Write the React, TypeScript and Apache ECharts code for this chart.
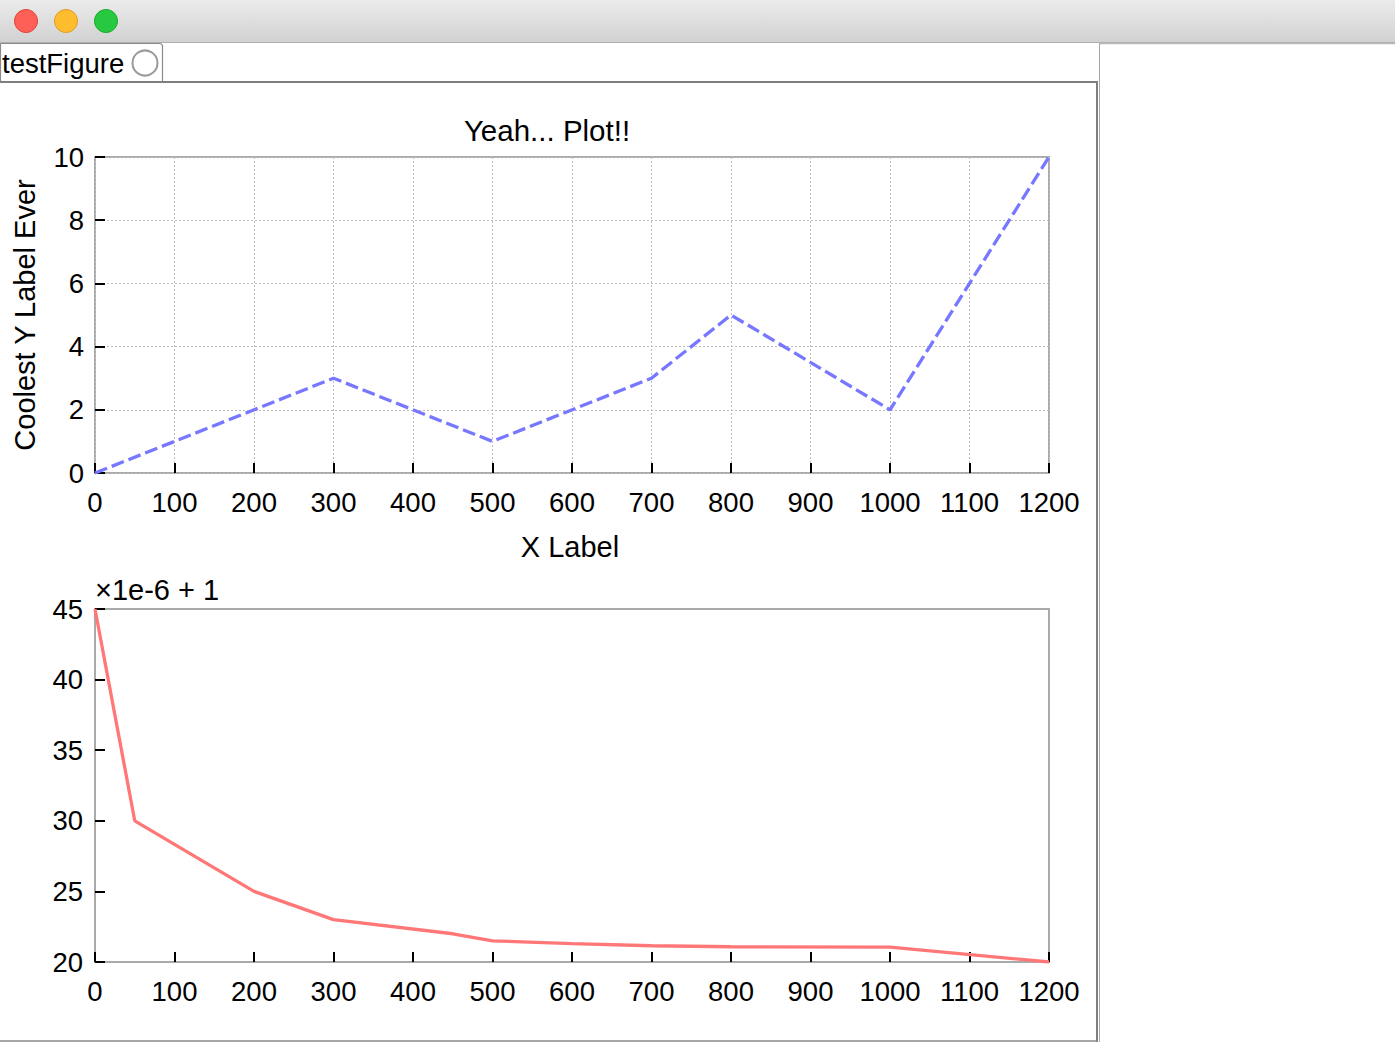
import React, { useEffect, useRef } from "react";
import * as echarts from "echarts";

// ---- data ----
const topX = [0, 300, 500, 700, 800, 1000, 1200];
const topY = [0, 3, 1, 3, 5, 2, 10];
const botX = [0, 50, 200, 300, 450, 500, 600, 700, 800, 1000, 1200];
const botY = [45, 30, 25, 23, 22, 21.5, 21.3, 21.15, 21.08, 21.05, 20];

const titleText = "Yeah... Plot!!";
const yLabelText = "Coolest Y Label Ever";
const xLabelText = "X Label";
const offsetText = "×1e-6 + 1";
const tabText = "testFigure";

const FONT = '"Liberation Sans", Arial, sans-serif';

export default function App() {
  const ref = useRef<HTMLDivElement>(null);
  useEffect(() => {
    if (!ref.current) return;
    const chart = echarts.init(ref.current, null, { renderer: "svg" });
    const axisLabel = { color: "#000", fontSize: 27.5, fontFamily: FONT, formatter: (v: number) => String(v) };
    const tick = { show: true, inside: true, length: 10, lineStyle: { color: "#000", width: 2 } };
    const grid = { color: "#bdbdbd", width: 1, type: [2, 2] as any };
    const zip = (xs: number[], ys: number[]) => xs.map((x, i) => [x, ys[i]]);
    chart.setOption({
      animation: false,
      backgroundColor: "#fff",
      grid: [
        { left: 95, top: 157, width: 954, height: 316, show: true, borderColor: "#aaaaaa", borderWidth: 2, backgroundColor: "transparent" },
        { left: 95, top: 609, width: 954, height: 353, show: true, borderColor: "#aaaaaa", borderWidth: 2, backgroundColor: "transparent" },
      ],
      xAxis: [
        { gridIndex: 0, type: "value", min: 0, max: 1200, interval: 100, axisLine: { show: false }, axisTick: tick, axisLabel: { ...axisLabel, margin: 15 }, splitLine: { show: true, lineStyle: grid } },
        { gridIndex: 1, type: "value", min: 0, max: 1200, interval: 100, axisLine: { show: false }, axisTick: tick, axisLabel: { ...axisLabel, margin: 15 }, splitLine: { show: false } },
      ],
      yAxis: [
        { gridIndex: 0, type: "value", min: 0, max: 10, interval: 2, axisLine: { show: false }, axisTick: tick, axisLabel: { ...axisLabel, margin: 11 }, splitLine: { show: true, lineStyle: grid } },
        { gridIndex: 1, type: "value", min: 20, max: 45, interval: 5, axisLine: { show: false }, axisTick: tick, axisLabel: { ...axisLabel, margin: 12 }, splitLine: { show: false } },
      ],
      series: [
        { type: "line", xAxisIndex: 0, yAxisIndex: 0, data: zip(topX, topY), showSymbol: false, lineStyle: { color: "#7777ff", width: 3.3, type: [13, 5] } },
        { type: "line", xAxisIndex: 1, yAxisIndex: 1, data: zip(botX, botY), showSymbol: false, lineStyle: { color: "#ff7777", width: 3.3 } },
      ],
      graphic: [
        // title bar
        { type: "rect", shape: { x: 0, y: 0, width: 1395, height: 42 }, style: { fill: new echarts.graphic.LinearGradient(0, 0, 0, 1, [{ offset: 0, color: "#ebebeb" }, { offset: 1, color: "#d2d2d2" }]) }, z: 100 },
        { type: "line", shape: { x1: 0, y1: 42.5, x2: 1395, y2: 42.5 }, style: { stroke: "#b0b0b0", lineWidth: 1 }, z: 100 },
        { type: "line", shape: { x1: 1100, y1: 43.5, x2: 1395, y2: 43.5 }, style: { stroke: "#b8b8b8", lineWidth: 1.5 }, z: 100 },
        { type: "circle", shape: { cx: 26, cy: 21, r: 11.5 }, style: { fill: "#fe5f57", stroke: "#e2463f", lineWidth: 1 }, z: 101 },
        { type: "circle", shape: { cx: 66, cy: 21, r: 11.5 }, style: { fill: "#febc2e", stroke: "#df9e24", lineWidth: 1 }, z: 101 },
        { type: "circle", shape: { cx: 106, cy: 21, r: 11.5 }, style: { fill: "#28c840", stroke: "#1dad2b", lineWidth: 1 }, z: 101 },
        // tab
        { type: "rect", shape: { x: 0.5, y: 43.5, width: 162, height: 38, r: [0, 3, 0, 0] }, style: { fill: "#fff", stroke: "#8a8a8a", lineWidth: 1.2 }, z: 100 },
        { type: "text", x: 2, y: 63, style: { text: tabText, fontSize: 27.5, fontFamily: FONT, fill: "#000", align: "left", verticalAlign: "middle" }, z: 101 },
        { type: "circle", shape: { cx: 145, cy: 63, r: 12.5 }, style: { fill: "#fff", stroke: "#9a9a9a", lineWidth: 2 }, z: 101 },
        // panel borders
        { type: "line", shape: { x1: 0, y1: 82, x2: 1098, y2: 82 }, style: { stroke: "#7f7f7f", lineWidth: 2 }, z: 100 },
        { type: "line", shape: { x1: 1097, y1: 81, x2: 1097, y2: 1042 }, style: { stroke: "#7f7f7f", lineWidth: 2 }, z: 100 },
        { type: "line", shape: { x1: 1099.5, y1: 43, x2: 1099.5, y2: 1042 }, style: { stroke: "#a8a8a8", lineWidth: 1 }, z: 100 },
        { type: "line", shape: { x1: 0, y1: 1041, x2: 1097, y2: 1041 }, style: { stroke: "#8a8a8a", lineWidth: 1.5 }, z: 100 },
        // plot texts
        { type: "text", x: 547, y: 130, style: { text: titleText, fontSize: 29.5, fontFamily: FONT, fill: "#000", align: "center", verticalAlign: "middle" } },
        { type: "text", x: 25, y: 315, rotation: Math.PI / 2, style: { text: yLabelText, fontSize: 29, fontFamily: FONT, fill: "#000", align: "center", verticalAlign: "middle" } },
        { type: "text", x: 570, y: 547, style: { text: xLabelText, fontSize: 29, fontFamily: FONT, fill: "#000", align: "center", verticalAlign: "middle" } },
        { type: "text", x: 95, y: 590, style: { text: offsetText, fontSize: 29, fontFamily: FONT, fill: "#000", align: "left", verticalAlign: "middle" } },
      ],
    });
    return () => chart.dispose();
  }, []);
  return <div ref={ref} style={{ position: "fixed", left: 0, top: 0, width: 1395, height: 1042 }} />;
}
